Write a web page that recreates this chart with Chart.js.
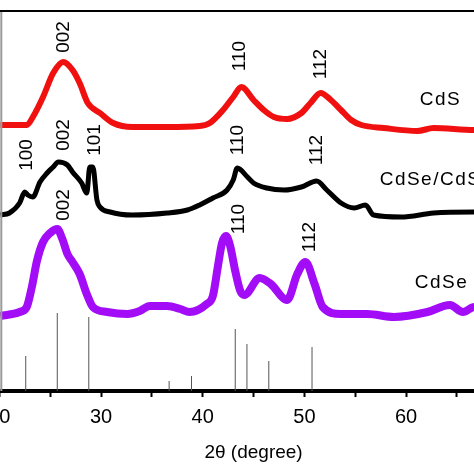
<!DOCTYPE html>
<html>
<head>
<meta charset="utf-8">
<script src="https://cdn.jsdelivr.net/npm/chart.js@4/dist/chart.umd.min.js"></script>
<style>
  html, body { margin: 0; padding: 0; background: #fff; overflow: hidden; }
  #wrap { position: absolute; left: -40px; top: 0; width: 600px; height: 474px; }
  #topEdge { position: absolute; left: 0; top: 10px; width: 474px; height: 2px; background: #000; }
</style>
</head>
<body>
<div id="wrap"><canvas id="xrd"></canvas></div>
<div id="topEdge"></div>
<script>
// XRD patterns, intensity in arbitrary units (offset stacked)
const cdsX = [20.1, 22.7, 23.3, 24.3, 25.3, 26.3, 27.2, 27.9, 28.7, 29.9, 31.2, 33.1, 36.5, 39.7, 40.7, 42.0, 43.0, 43.8, 45.0, 46.0, 47.0, 48.3, 49.7, 50.6, 51.6, 52.6, 53.6, 54.6, 55.6, 57.8, 61.1, 62.7, 66.7, 70];
const cdsY = [266, 266, 274, 294, 318, 329, 321, 308, 288, 278, 268, 264, 264, 265, 268, 281, 294, 304, 291, 281, 274, 272, 278, 288, 298, 291, 281, 271, 266, 263, 260, 263, 261, 261];

const coreShellX = [20.1, 21.0, 22.0, 22.5, 22.8, 23.3, 24.0, 24.7, 25.3, 25.8, 26.7, 27.2, 28.1, 28.6, 28.9, 29.2, 29.6, 29.9, 30.9, 33.1, 36.5, 38.5, 39.7, 41.0, 42.4, 43.0, 43.4, 44.4, 45.0, 46.3, 48.0, 49.7, 51.2, 52.2, 53.6, 54.9, 56.0, 56.8, 59.5, 62.7, 66.7, 70];
const coreShellY = [176, 178, 188, 199, 196, 194, 209, 218, 224, 229, 226, 219, 208, 198, 224, 224, 191, 184, 179, 176, 178, 181, 186, 193, 201, 211, 223, 214, 208, 203, 201, 204, 210, 201, 188, 183, 186, 176, 174, 178, 179, 179];

const cdseX = [20.1, 22.0, 22.7, 23.2, 23.7, 24.3, 25.0, 25.7, 26.2, 26.7, 27.2, 27.9, 28.6, 29.2, 30.6, 32.6, 33.8, 34.8, 36.5, 37.8, 38.7, 40.4, 41.0, 41.5, 41.9, 42.3, 42.7, 43.2, 43.7, 44.1, 45.6, 46.7, 48.3, 49.3, 50.1, 51.0, 51.8, 53.6, 56.2, 58.8, 62.1, 64.3, 65.6, 66.7, 70];
const cdseY = [75, 79, 84, 104, 130, 149, 158, 162, 152, 137, 129, 117, 97, 84, 79, 77, 80, 85, 85, 82, 79, 87, 95, 125, 148, 155, 145, 120, 100, 96, 113, 107, 91, 117, 129, 107, 84, 77, 77, 74, 79, 86, 79, 84, 84];

// standard reference pattern (sticks)
const refX = [22.6, 25.7, 28.8, 36.7, 38.9, 43.2, 44.35, 46.5, 50.75];
const refY = [35, 78, 74, 10, 15, 62, 47, 30, 44];

// (hkl) labels
const peakText = ['002', '110', '112', '100', '002', '101', '110', '112', '002', '110', '112'];
const peakX = [26.3, 43.6, 51.6, 22.7, 26.3, 29.4, 43.4, 51.2, 26.3, 43.5, 50.5];
const peakY = [354, 335, 327, 236, 256, 251, 251, 241, 186, 172, 154];

const sampleText = ['CdS', 'CdSe/CdS', 'CdSe'];
const sampleX = [63.3, 57.4, 63.4];
const sampleY = [291, 211, 108];

const FONT = "'Liberation Sans', Arial, sans-serif";

function toPoints(xs, ys) {
    return xs.map((x, i) => ({ x: x, y: ys[i] }));
}

function stickPoints(xs, ys) {
    const pts = [];
    xs.forEach((x, i) => {
        pts.push({ x: x, y: 0 });
        pts.push({ x: x, y: ys[i] });
        pts.push({ x: x, y: null });
    });
    return pts;
}

// spaced text, drawn letter by letter
function spacedText(ctx, text, x, y, gap, centered) {
    const chars = text.split('');
    const widths = chars.map(c => ctx.measureText(c).width);
    const total = widths.reduce((a, b) => a + b, 0) + gap * (chars.length - 1);
    let cx = centered ? x - total / 2 : x;
    chars.forEach((c, i) => {
        ctx.fillText(c, cx, y);
        cx += widths[i] + gap;
    });
}

// frame: black top edge, grey left edge, following the chart area
const framePlugin = {
    id: 'frame',
    afterDraw(chart) {
        const { ctx, chartArea } = chart;
        ctx.save();
        ctx.fillStyle = '#000';
        ctx.fillRect(chartArea.left, chartArea.top - 1, chartArea.right - chartArea.left, 2);
        ctx.fillStyle = '#9a9a9a';
        ctx.fillRect(chartArea.left + 1, chartArea.top, 2, chartArea.bottom - chartArea.top);
        ctx.restore();
    }
};

const labelPlugin = {
    id: 'xrdLabels',
    afterDatasetsDraw(chart) {
        const ctx = chart.ctx;
        const xs = chart.scales.x;
        const ys = chart.scales.y;
        ctx.save();
        ctx.fillStyle = '#000';
        ctx.font = '19px ' + FONT;
        ctx.textAlign = 'center';
        ctx.textBaseline = 'middle';
        peakText.forEach((t, i) => {
            ctx.save();
            ctx.translate(xs.getPixelForValue(peakX[i]), ys.getPixelForValue(peakY[i]));
            ctx.rotate(-Math.PI / 2);
            ctx.fillText(t, 0, 0);
            ctx.restore();
        });
        ctx.textAlign = 'left';
        sampleText.forEach((t, i) => {
            spacedText(ctx, t, xs.getPixelForValue(sampleX[i]), ys.getPixelForValue(sampleY[i]), 1.5, i !== 1);
        });
        ctx.restore();
    }
};

new Chart(document.getElementById('xrd'), {
    type: 'line',
    data: {
        datasets: [
            {
                label: 'reference',
                data: stickPoints(refX, refY),
                borderColor: '#555',
                borderWidth: 1,
                pointRadius: 0,
                spanGaps: false
            },
            {
                label: 'CdSe',
                data: toPoints(cdseX, cdseY),
                borderColor: '#a20cf6',
                borderWidth: 8,
                pointRadius: 0,
                cubicInterpolationMode: 'monotone'
            },
            {
                label: 'CdSe/CdS',
                data: toPoints(coreShellX, coreShellY),
                borderColor: '#000',
                borderWidth: 5,
                pointRadius: 0,
                cubicInterpolationMode: 'monotone'
            },
            {
                label: 'CdS',
                data: toPoints(cdsX, cdsY),
                borderColor: '#f01010',
                borderWidth: 6,
                pointRadius: 0,
                cubicInterpolationMode: 'monotone'
            }
        ]
    },
    options: {
        responsive: true,
        maintainAspectRatio: false,
        animation: false,
        layout: { padding: { left: 39.3, right: 52.2, top: 11, bottom: 0 } },
        plugins: {
            legend: { display: false },
            tooltip: { enabled: false }
        },
        scales: {
            x: {
                type: 'linear',
                min: 20,
                max: 70,
                afterFit(scale) { scale.height = 83; },
                border: { color: '#000', width: 4 },
                grid: {
                    display: true,
                    drawOnChartArea: false,
                    tickLength: 6,
                    tickWidth: 2,
                    tickColor: '#000'
                },
                ticks: {
                    stepSize: 5,
                    autoSkip: false,
                    maxRotation: 0,
                    padding: 8,
                    color: '#000',
                    font: { family: FONT, size: 20 },
                    callback: v => (v % 10 === 0 ? v : '')
                },
                title: {
                    display: true,
                    text: '2θ (degree)',
                    color: '#000',
                    font: { family: FONT, size: 19 },
                    padding: { bottom: 10 }
                }
            },
            y: {
                type: 'linear',
                min: 0,
                max: 380,
                afterFit(scale) { scale.width = 0; },
                border: { display: false },
                grid: { display: false },
                ticks: { display: false }
            }
        }
    },
    plugins: [framePlugin, labelPlugin]
});
</script>
</body>
</html>
